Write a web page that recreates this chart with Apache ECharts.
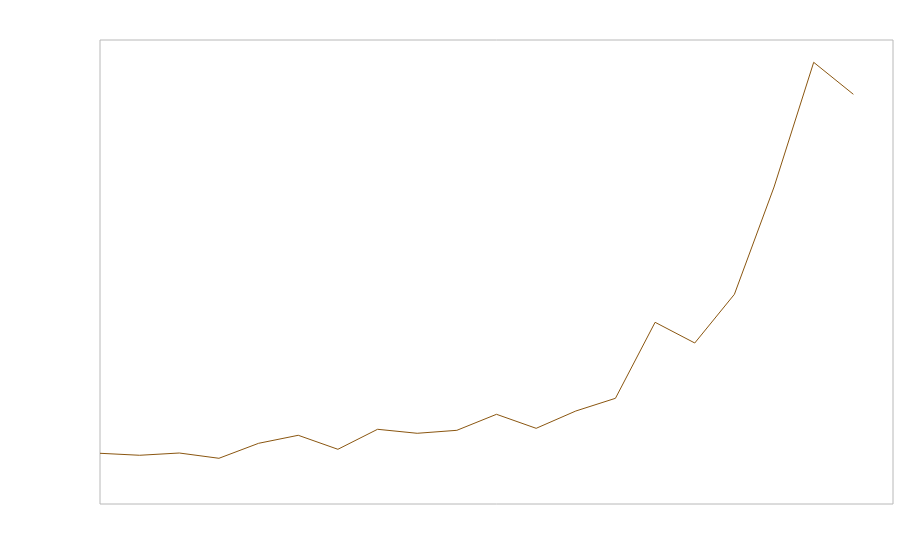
<!DOCTYPE html>
<html>
<head>
<meta charset="utf-8">
<script src="https://cdn.jsdelivr.net/npm/echarts@6/dist/echarts.min.js"></script>
<style>html,body{margin:0;padding:0;background:#fff}#c{width:900px;height:560px}</style>
</head>
<body>
<div id="c"></div>
<script>
const categories = ["1","2","3","4","5","6","7","8","9","10","11","12","13","14","15","16","17","18","19","20","21"];
const values = [10.93, 10.50, 10.99, 9.85, 13.08, 14.81, 11.79, 16.10, 15.24, 15.88, 19.33, 16.31, 20.04, 22.78, 39.16, 34.70, 45.19, 68.32, 95.19, 88.30, null];

const chart = echarts.init(document.getElementById('c'), null, {renderer: 'canvas'});
chart.setOption({
  animation: false,
  backgroundColor: '#fff',
  grid: {left: 100, top: 40, right: 7, bottom: 56, show: true, borderColor: '#b8b8b8', borderWidth: 1, backgroundColor: 'transparent'},
  xAxis: {type: 'category', data: categories, boundaryGap: false, show: false},
  yAxis: {type: 'value', min: 0, max: 100, show: false},
  series: [{
    type: 'line',
    data: values,
    showSymbol: false,
    symbol: 'none',
    lineStyle: {color: '#8a5610', width: 1},
    itemStyle: {color: '#8a5610'}
  }]
});
</script>
</body>
</html>
